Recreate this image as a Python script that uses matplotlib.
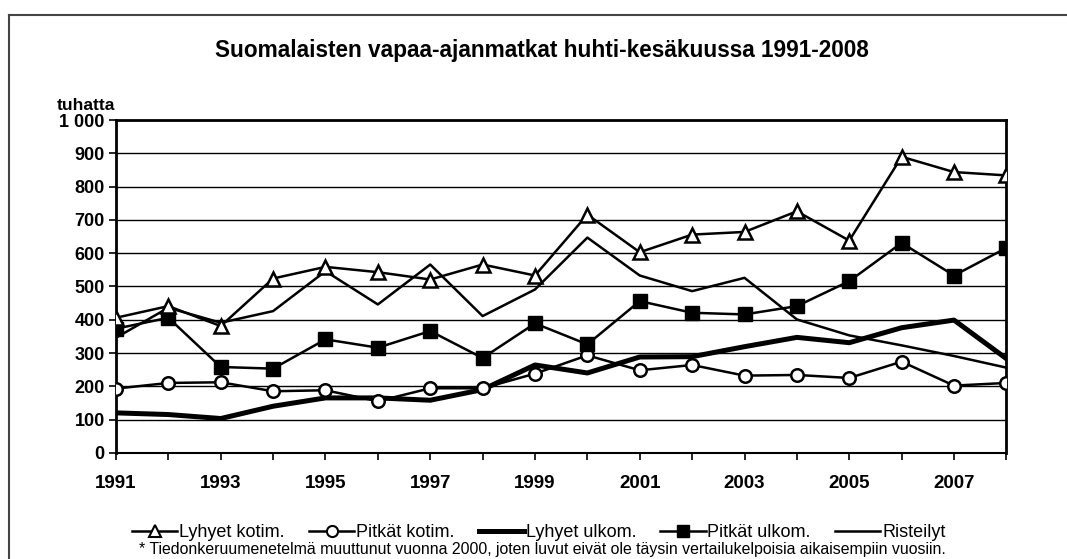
import numpy as np
import matplotlib.pyplot as plt
from matplotlib.lines import Line2D

plt.rcParams['font.family'] = ['Liberation Sans', 'DejaVu Sans']

# data (thousands of trips)
years = list(range(1991, 2009))
lyhyet_kotim = [406, 441, 381, 524, 559, 543, 521, 566, 533, 716, 603, 656, 664, 726, 638, 890, 844, 834]
pitkat_kotim = [193, 210, 212, 185, 188, 155, 194, 194, 238, 293, 248, 264, 232, 234, 225, 274, 202, 210]
lyhyet_ulkom = [120, 115, 103, 140, 165, 165, 158, 190, 264, 240, 288, 289, 319, 347, 331, 376, 399, 283]
pitkat_ulkom = [373, 406, 258, 253, 341, 316, 366, 285, 389, 326, 456, 421, 416, 441, 516, 631, 533, 616]
risteilyt = [346, 436, 391, 426, 546, 446, 566, 411, 491, 647, 533, 486, 526, 401, 353, 323, 291, 256]
xtick_labels = ['1991', '1993', '1995', '1997', '1999', '2001', '2003', '2005', '2007']
ytick_labels = ['0', '100', '200', '300', '400', '500', '600', '700', '800', '900', '1 000']

fig = plt.figure(figsize=(10.67, 5.59), dpi=100)
ax = fig.add_axes([0.1087, 0.19, 0.8345, 0.595])

ax.plot(years, risteilyt, color='black', lw=1.8, label='Risteilyt', zorder=3)
ax.plot(years, lyhyet_ulkom, color='black', lw=3.6, label='Lyhyet ulkom.', zorder=3)
ax.plot(years, pitkat_kotim, color='black', lw=1.8, marker='o', ms=9, mfc='white', mec='black', mew=1.8,
        label='Pitkät kotim.', zorder=4)
ax.plot(years, pitkat_ulkom, color='black', lw=1.8, marker='s', ms=9.5, mfc='black', mec='black',
        label='Pitkät ulkom.', zorder=4)
ax.plot(years, lyhyet_kotim, color='black', lw=1.8, marker='^', ms=10, mfc='white', mec='black', mew=1.8,
        label='Lyhyet kotim.', zorder=5)

ax.set_xlim(1991, 2008)
ax.set_ylim(0, 1000)
ax.set_yticks(range(0, 1001, 100))
ax.set_yticklabels(ytick_labels, fontsize=13, fontweight='bold')
ax.set_xticks(years)
ax.set_xticklabels([str(y) if str(y) in xtick_labels else '' for y in years], fontsize=13.5, fontweight='bold')
ax.tick_params(axis='x', direction='out', length=5, width=1.2, pad=11)
ax.tick_params(axis='y', direction='out', length=5, width=1.2, pad=3)
ax.yaxis.grid(True, color='black', lw=1.0)
ax.set_axisbelow(True)
for s in ['left', 'top', 'right']:
    ax.spines[s].set_linewidth(2.0)
ax.spines['bottom'].set_linewidth(1.5)

fig.text(0.053, 0.797, 'tuhatta', fontsize=12.5, fontweight='bold', ha='left', va='bottom')
fig.text(0.508, 0.909, 'Suomalaisten vapaa-ajanmatkat huhti-kesäkuussa 1991-2008',
         fontsize=16.3, fontweight='bold', ha='center', va='center')

handles = [
    Line2D([], [], color='black', lw=1.8, marker='^', ms=9, mfc='white', mew=1.5),
    Line2D([], [], color='black', lw=1.8, marker='o', ms=8, mfc='white', mew=1.5),
    Line2D([], [], color='black', lw=3.6),
    Line2D([], [], color='black', lw=1.8, marker='s', ms=9),
    Line2D([], [], color='black', lw=1.8),
]
labels = ['Lyhyet kotim.', 'Pitkät kotim.', 'Lyhyet ulkom.', 'Pitkät ulkom.', 'Risteilyt']
fig.legend(handles, labels, loc='center', bbox_to_anchor=(0.505, 0.047), ncol=5, frameon=False,
           fontsize=13, handlelength=2.5, handletextpad=0.1, columnspacing=1.35)

fig.text(0.130, 0.003, '* Tiedonkeruumenetelmä muuttunut vuonna 2000, joten luvut eivät ole täysin '
         'vertailukelpoisia aikaisempiin vuosiin.', fontsize=11.4, ha='left', va='bottom')

# outer frame
fig.add_artist(Line2D([0.0085, 0.0085], [0.0, 0.973], color='#444444', lw=1.5, transform=fig.transFigure))
fig.add_artist(Line2D([0.0085, 1.0], [0.973, 0.973], color='#444444', lw=1.5, transform=fig.transFigure))

fig.savefig('out.png', dpi=100)
